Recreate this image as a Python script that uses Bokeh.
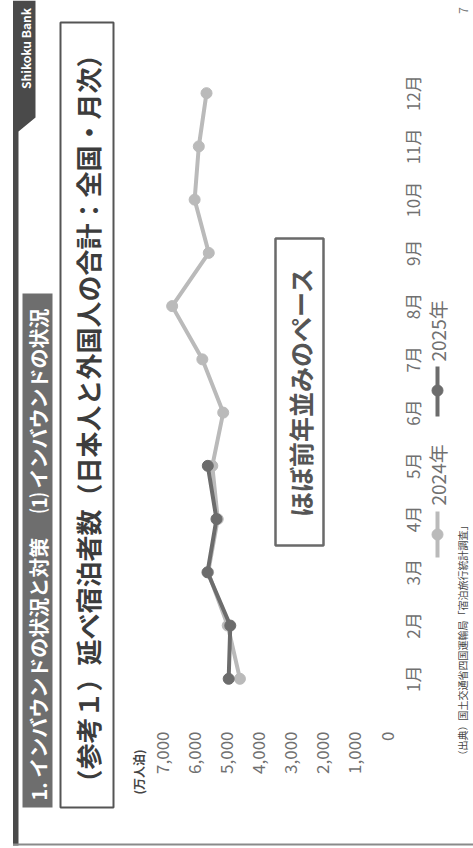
from math import pi
from bokeh.plotting import figure
from bokeh.models import Range1d
from bokeh.core.properties import value
from bokeh.embed import file_html
from bokeh.resources import INLINE

# ---- data (万人泊) ----
months = [1, 2, 3, 4, 5, 6, 7, 8, 9, 10, 11, 12]
month_labels = ["1月", "2月", "3月", "4月", "5月", "6月", "7月", "8月", "9月", "10月", "11月", "12月"]
nights_2024 = [4580, 4960, 5570, 5270, 5440, 5100, 5750, 6690, 5550, 5990, 5860, 5620]
months_2025 = [1, 2, 3, 4, 5]
nights_2025 = [4930, 4880, 5590, 5310, 5580]
value_ticks = [0, 1000, 2000, 3000, 4000, 5000, 6000, 7000]
value_tick_labels = ["0", "1,000", "2,000", "3,000", "4,000", "5,000", "6,000", "7,000"]
series_names = ["2024年", "2025年"]

FONT = value("Noto Sans CJK JP")
W, H = 473, 848

# the slide is rotated: values run right->left, months bottom->top
PX0, PX_PER = 386.5, 224.8 / 7000.0
PY1, PY_PER = 678.3, 53.24


def X(px):
    return (PX0 - px) / PX_PER


def Y(py):
    return 1 + (PY1 - py) / PY_PER


p = figure(width=W, height=H, output_backend="svg", toolbar_location=None,
           x_range=Range1d(X(0), X(W)), y_range=Range1d(Y(H), Y(0)),
           x_axis_type=None, y_axis_type=None, min_border=0,
           outline_line_color=None, background_fill_color="white",
           border_fill_color="white")
p.grid.visible = False

# ---- slide decoration ----
DARK = "#4a4a4a"
p.patch([X(12.5), X(35), X(35), X(18), X(18), X(12.5)],
        [Y(0), Y(0), Y(117), Y(131), Y(845), Y(845)],
        fill_color=DARK, line_color=None)
p.segment([X(12.5)], [Y(844)], [X(W)], [Y(844)], line_color="#8a8a8a", line_width=2)
p.text([X(25)], [Y(48)], text=["Shikoku Bank"], angle=pi / 2, text_font=FONT,
       text_font_style="bold", text_font_size="12px", text_color="white",
       text_align="center", text_baseline="middle")
p.text([X(463)], [Y(10)], text=["7"], angle=pi / 2, text_font=FONT,
       text_font_size="12px", text_color="#777777",
       text_align="center", text_baseline="middle")

# header band
p.quad(left=[X(22)], right=[X(52)], top=[Y(293)], bottom=[Y(807)],
       fill_color="#6e6e6e", line_color=None)
p.text([X(37.5)], [Y(800)], text=["1. インバウンドの状況と対策　 ⑴ インバウンドの状況"],
       angle=pi / 2, text_font=FONT, text_font_style="bold", text_font_size="20px",
       text_color="white", text_align="left", text_baseline="middle")

# title box
p.quad(left=[X(60)], right=[X(113)], top=[Y(22)], bottom=[Y(807)],
       fill_color="white", line_color="#555555", line_width=2)
p.text([X(87)], [Y(795)], text=["（参考１）延べ宿泊者数（日本人と外国人の合計：全国・月次）"],
       angle=pi / 2, text_font=FONT, text_font_style="bold", text_font_size="26px",
       text_color="#3c3c3c", text_align="left", text_baseline="middle")

# comment box
p.quad(left=[X(275)], right=[X(323)], top=[Y(238)], bottom=[Y(545)],
       fill_color=None, line_color="#6a6a6a", line_width=2.5)
p.text([X(299)], [Y(391.5)], text=["ほぼ前年並みのペース"], angle=pi / 2, text_font=FONT,
       text_font_style="bold", text_font_size="25px", text_color="#555555",
       text_align="center", text_baseline="middle")

# ---- axes (drawn as text through the scales) ----
p.text(x=value_ticks, y=[Y(731)] * len(value_ticks), text=value_tick_labels,
       angle=pi / 2, text_font=FONT, text_font_size="17px", text_color="#707070",
       text_align="right", text_baseline="middle")
p.text([X(138)], [Y(794)], text=["(万人泊)"], angle=pi / 2, text_font=FONT,
       text_font_style="bold", text_font_size="12px", text_color="#444444",
       text_align="left", text_baseline="middle")
p.text(x=[X(412)] * len(months), y=months, text=month_labels, angle=pi / 2,
       text_font=FONT, text_font_size="17px", text_color="#707070",
       text_align="center", text_baseline="middle")

# ---- series ----
C24, C25 = "#bababa", "#6c6c6c"
p.line(nights_2024, months, line_color=C24, line_width=4)
p.scatter(nights_2024, months, size=11, fill_color=C24, line_color=C24)
p.line(nights_2025, months_2025, line_color=C25, line_width=4)
p.scatter(nights_2025, months_2025, size=11, fill_color=C25, line_color=C25)

# ---- legend ----
p.segment([X(437)], [Y(511)], [X(437)], [Y(557)], line_color=C24, line_width=4)
p.scatter([X(437)], [Y(534)], size=11, fill_color=C24, line_color=C24)
p.text([X(437)], [Y(505)], text=[series_names[0]], angle=pi / 2, text_font=FONT,
       text_font_size="19px", text_color="#707070", text_align="left",
       text_baseline="middle")
p.segment([X(437)], [Y(366)], [X(437)], [Y(416)], line_color=C25, line_width=4)
p.scatter([X(437)], [Y(390)], size=11, fill_color=C25, line_color=C25)
p.text([X(437)], [Y(361)], text=[series_names[1]], angle=pi / 2, text_font=FONT,
       text_font_size="19px", text_color="#707070", text_align="left",
       text_baseline="middle")

# ---- source ----
p.text([X(462)], [Y(760)], text=["（出典）国土交通省四国運輸局「宿泊旅行統計調査」"],
       angle=pi / 2, text_font=FONT, text_font_size="10px", text_color="#444444",
       text_align="left", text_baseline="middle")

open("out.html", "w").write(file_html(p, INLINE))
